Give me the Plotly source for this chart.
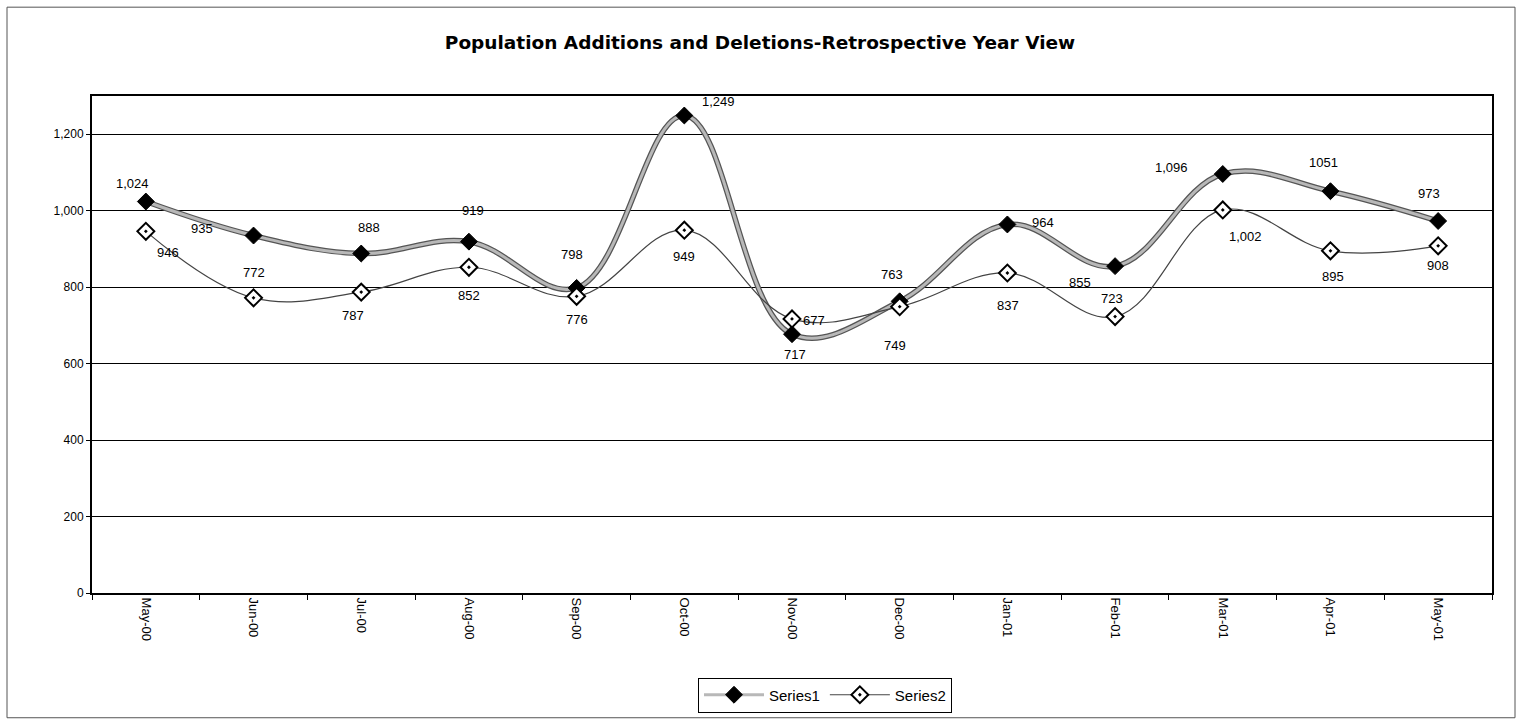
import plotly.graph_objects as go

months = ["May-00", "Jun-00", "Jul-00", "Aug-00", "Sep-00", "Oct-00", "Nov-00",
          "Dec-00", "Jan-01", "Feb-01", "Mar-01", "Apr-01", "May-01"]
series1 = [1024, 935, 888, 919, 798, 1249, 677, 763, 964, 855, 1096, 1051, 973]
series2 = [946, 772, 787, 852, 776, 949, 717, 749, 837, 723, 1002, 895, 908]
labels1 = ["1,024", "935", "888", "919", "798", "1,249", "677", "763", "964", "855", "1,096", "1051", "973"]
labels2 = ["946", "772", "787", "852", "776", "949", "717", "749", "837", "723", "1,002", "895", "908"]
y_ticks = [0, 200, 400, 600, 800, 1000, 1200]
y_tick_text = ["0", "200", "400", "600", "800", "1,000", "1,200"]

# label offsets in pixels (xshift, yshift) relative to each point
off1 = [(-13, 18), (-52, 7), (8, 26), (4, 31), (-5, 33), (34, 14), (22, 14),
        (-8, 27), (36, 2), (-35, -16), (-51, 6), (-7, 29), (-9, 28)]
off2 = [(22, -21), (0, 25), (-8, -23), (0, -28), (0, -23), (0, -26), (3, -36),
        (-5, -39), (1, -32), (-3, 18), (23, -27), (3, -26), (0, -20)]

FONT = "Liberation Sans, Arial, sans-serif"
W, H = 1520, 723
L, R, T, B = 92, 28, 96, 129
pw, ph = W - L - R, H - T - B

fig = go.Figure()
# Series1: thick rope-like grey line
fig.add_trace(go.Scatter(x=months, y=series1, mode="lines",
                         line=dict(color="#555555", width=5.5, shape="spline", smoothing=1.1),
                         showlegend=False, hoverinfo="skip"))
fig.add_trace(go.Scatter(x=months, y=series1, mode="lines+markers", name="Series1",
                         line=dict(color="#b8b8b8", width=3, shape="spline", smoothing=1.1),
                         marker=dict(symbol="diamond", size=13, color="black", line=dict(color="black", width=1))))
fig.add_trace(go.Scatter(x=months, y=series2, mode="lines+markers", name="Series2",
                         line=dict(color="#444444", width=1.2, shape="spline", smoothing=1.1),
                         marker=dict(symbol="diamond-dot", size=13, color="white", line=dict(color="black", width=2))))

for i, m in enumerate(months):
    fig.add_annotation(x=m, y=series1[i], text=labels1[i], showarrow=False,
                       xshift=off1[i][0], yshift=off1[i][1], font=dict(family=FONT, size=13, color="black"))
    fig.add_annotation(x=m, y=series2[i], text=labels2[i], showarrow=False,
                       xshift=off2[i][0], yshift=off2[i][1], font=dict(family=FONT, size=13, color="black"))

# outer chart border
fig.add_shape(type="rect", xref="paper", yref="paper",
              x0=(7 - L) / pw, x1=(1515 - L) / pw, y0=-(719 - T - ph) / ph, y1=(T + ph - 7) / ph,
              line=dict(color="#555555", width=1), layer="below")

fig.update_layout(
    width=W, height=H,
    margin=dict(l=L, r=R, t=T, b=B),
    paper_bgcolor="white", plot_bgcolor="white",
    font=dict(family=FONT, color="black"),
    title=dict(text="<b>Population Additions and Deletions-Retrospective Year View</b>",
               x=760 / W, xanchor="center", y=1 - 43 / H, yanchor="middle",
               font=dict(family="DejaVu Sans, sans-serif", size=18.5, color="black")),
    xaxis=dict(type="category", range=[-0.5, 12.5], tickson="boundaries", tickangle=90,
               ticks="outside", ticklen=5, tickcolor="black", showgrid=False,
               showline=True, linecolor="black", linewidth=2, mirror=True,
               tickfont=dict(family=FONT, size=13, color="black")),
    yaxis=dict(range=[0, 1300], tickvals=y_ticks, ticktext=y_tick_text, ticks="outside", ticklen=4,
               tickcolor="black", showgrid=True, gridcolor="black", gridwidth=1,
               showline=True, linecolor="black", linewidth=2, mirror=True, zeroline=False,
               tickfont=dict(family=FONT, size=12, color="black")),
    legend=dict(orientation="h", x=(825 - L) / pw, xanchor="center", y=-(695 - T - ph) / ph, yanchor="middle",
                bordercolor="black", borderwidth=1, bgcolor="white",
                font=dict(family=FONT, size=15, color="black"), itemwidth=60),
    showlegend=True,
)

fig.write_html("out.html", config={"displayModeBar": False},
               post_script="document.body.style.margin='0px';document.body.style.overflow='hidden';"
                           "document.documentElement.style.overflow='hidden';")
